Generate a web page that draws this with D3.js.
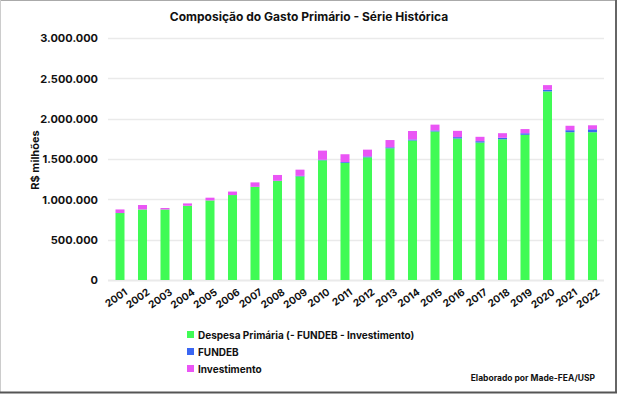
<!DOCTYPE html>
<html lang="pt">
<head>
	<meta charset="utf-8">
	<title>Composição do Gasto Primário</title>
	<style>
		body { margin: 0; background: #fff; }
		svg text { font-family: Inter, "Noto Sans", sans-serif; font-weight: 700; fill: #111; }
	</style>
	<script src="https://cdn.jsdelivr.net/npm/d3@7"></script>
</head>
<body>
	<script>
		// valores em R$ milhões
		var years = ["2001", "2002", "2003", "2004", "2005", "2006", "2007", "2008", "2009", "2010", "2011",
			"2012", "2013", "2014", "2015", "2016", "2017", "2018", "2019", "2020", "2021", "2022"];
		var despesa = [830000, 874000, 874000, 920000, 986000, 1053000, 1153000, 1227000, 1285000, 1484000, 1452000,
			1521000, 1633000, 1729000, 1841000, 1754000, 1704000, 1745000, 1800000, 2338000, 1832000, 1832000];
		var fundeb = [600, 500, 400, 400, 400, 300, 2000, 3000, 6000, 7000, 10000,
			11000, 12000, 13000, 13000, 17000, 17000, 18000, 19000, 20000, 25000, 36000];
		var investimento = [44000, 55000, 18000, 29000, 34000, 43000, 55000, 72000, 77000, 113000, 97000,
			84000, 90000, 105000, 72000, 78000, 54000, 57000, 52000, 58000, 55000, 50000];
		var yTicks = [0, 500000, 1000000, 1500000, 2000000, 2500000, 3000000];
		var seriesNames = ["Despesa Primária (- FUNDEB - Investimento)", "FUNDEB", "Investimento"];
		var colors = ["#40fb55", "#3a66f2", "#ea55f5"];

		var w = 618, h = 394;
		var svg = d3.select("body").append("svg")
			.attr("width", w)
			.attr("height", h);

		// moldura
		svg.append("line").attr("x1", 0).attr("y1", 0.5).attr("x2", 616).attr("y2", 0.5).attr("stroke", "#aaa");
		svg.append("line").attr("x1", 0.5).attr("y1", 0).attr("x2", 0.5).attr("y2", 392).attr("stroke", "#ccc");
		svg.append("line").attr("x1", 616).attr("y1", 0).attr("x2", 616).attr("y2", 393).attr("stroke", "#666").attr("stroke-width", 2);
		svg.append("line").attr("x1", 0).attr("y1", 392.5).attr("x2", 617).attr("y2", 392.5).attr("stroke", "#555").attr("stroke-width", 2);

		var table = years.map((y, i) => ({ year: y, s0: despesa[i], s1: fundeb[i], s2: investimento[i] }));
		var stack = d3.stack().keys(["s0", "s1", "s2"])(table);

		var x = d3.scaleBand()
			.domain(years)
			.range([108.75, 603.75])
			.paddingInner(0.6)
			.paddingOuter(0.3);
		var y = d3.scaleLinear()
			.domain([0, 3000000])
			.range([280, 38]);

		var fmt = d => d3.format(",")(d).replace(/,/g, ".");

		// grade
		svg.append("g")
			.selectAll("line")
			.data(yTicks)
			.enter()
			.append("line")
			.attr("x1", 108)
			.attr("x2", 604)
			.attr("y1", d => Math.round(y(d)) + 0.5)
			.attr("y2", d => Math.round(y(d)) + 0.5)
			.attr("stroke", "#eaeaea")
			.attr("stroke-width", d => d === 0 ? 2 : 1.5);

		var yAxis = d3.axisLeft(y).tickValues(yTicks).tickFormat(fmt).tickSize(0).tickPadding(0);
		svg.append("g")
			.attr("transform", "translate(98,0)")
			.call(yAxis)
			.call(g => g.select(".domain").remove())
			.selectAll("text")
			.attr("font-size", "11px")
			.attr("dy", "0.35em");

		// barras
		svg.append("g")
			.selectAll("g")
			.data(stack)
			.enter()
			.append("g")
			.attr("fill", (d, i) => colors[i])
			.selectAll("rect")
			.data(d => d)
			.enter()
			.append("rect")
			.attr("x", d => x(d.data.year))
			.attr("width", x.bandwidth())
			.attr("y", d => y(d[1]))
			.attr("height", d => y(d[0]) - y(d[1]));

		var xAxis = d3.axisBottom(x).tickSize(0).tickPadding(0);
		svg.append("g")
			.attr("transform", "translate(0,284)")
			.call(xAxis)
			.call(g => g.select(".domain").remove())
			.selectAll("text")
			.attr("font-size", "10px")
			.attr("text-anchor", "end")
			.attr("dy", "0.7em")
			.attr("transform", "translate(4,4) rotate(-35)");

		// títulos
		svg.append("text")
			.attr("x", 309)
			.attr("y", 21)
			.attr("text-anchor", "middle")
			.attr("font-size", "12px")
			.text("Composição do Gasto Primário - Série Histórica");

		svg.append("text")
			.attr("transform", "translate(39,160) rotate(-90)")
			.attr("text-anchor", "middle")
			.attr("font-size", "11px")
			.text("R$ milhões");

		// legenda
		var legend = svg.append("g")
			.selectAll("g")
			.data(seriesNames)
			.enter()
			.append("g")
			.attr("transform", (d, i) => "translate(187," + (335 + i * 17) + ")");
		legend.append("rect")
			.attr("x", 0)
			.attr("y", -4)
			.attr("width", 7)
			.attr("height", 7)
			.attr("fill", (d, i) => colors[i]);
		legend.append("text")
			.attr("x", 11)
			.attr("y", 0)
			.attr("dy", "0.35em")
			.attr("font-size", "10px")
			.text(d => d);

		svg.append("text")
			.attr("x", 595)
			.attr("y", 381)
			.attr("text-anchor", "end")
			.attr("font-size", "8.5px")
			.text("Elaborado por Made-FEA/USP");
	</script>
</body>
</html>
